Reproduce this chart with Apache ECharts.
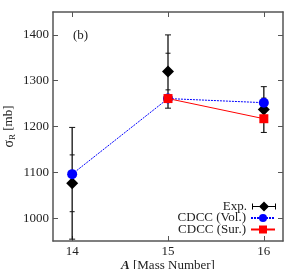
<!DOCTYPE html>
<html><head><meta charset="utf-8">
<script src="https://cdn.jsdelivr.net/npm/echarts@6/dist/echarts.min.js"></script>
<style>html,body{margin:0;padding:0;background:#fff}#c{width:291px;height:269px}</style>
</head><body><div id="c"></div>
<script>
const massNumbers = [14, 15, 16];
const xTicks = [14, 15, 16];
const yTicks = [1000, 1100, 1200, 1300, 1400];
const expValues = [1076, 1320, 1237];
const expInnerErr = [62, 40, 25];
const expOuterErr = [122, 80, 50];
const volValues = [1096, 1261, 1252];
const surMass = [15, 16];
const surValues = [1261, 1217];

const font = 'Liberation Serif';
const axisColor = '#555';

const expData = massNumbers.map((m, i) => [m, expValues[i]]);
const errData = massNumbers.map((m, i) => [m, expValues[i], expInnerErr[i], expOuterErr[i]]);
const volData = massNumbers.map((m, i) => [m, volValues[i]]);
const surData = surMass.map((m, i) => [m, surValues[i]]);

const chart = echarts.init(document.getElementById('c'), null, {renderer: 'canvas'});
const baseAxis = {
  axisLine: {show: true, lineStyle: {color: axisColor, width: 1.5}},
  axisTick: {inside: true, length: 5, lineStyle: {color: axisColor, width: 1}},
  splitLine: {show: false},
};
const fmt = v => String(v);
const legendBase = {
  orient: 'vertical', right: 15, align: 'right',
  itemWidth: 24, itemHeight: 10, itemGap: 0, padding: 0,
  textStyle: {fontFamily: font, fontSize: 13, color: '#222'}
};
chart.setOption({
  animation: false,
  textStyle: {fontFamily: font},
  grid: {left: 53, right: 8, top: 12, bottom: 28, outerBoundsMode: 'none', containLabel: false},
  xAxis: [
    Object.assign({}, baseAxis, {
      type: 'value', min: 13.8, max: 16.2, position: 'bottom',
      axisTick: Object.assign({}, baseAxis.axisTick, {customValues: xTicks}),
      axisLabel: {customValues: xTicks, formatter: fmt, color: '#222', fontSize: 13, fontFamily: font, margin: 4},
      name: '{b|A} [Mass Number]', nameLocation: 'middle', nameGap: 18, nameMoveOverlap: false,
      nameTextStyle: {color: '#222', fontSize: 13, fontFamily: font,
        rich: {b: {fontWeight: 'bold', fontStyle: 'italic', fontSize: 13, fontFamily: font, color: '#222'}}}
    }),
    Object.assign({}, baseAxis, {
      type: 'value', min: 13.8, max: 16.2, position: 'top',
      axisTick: Object.assign({}, baseAxis.axisTick, {customValues: xTicks}),
      axisLabel: {show: false}
    })
  ],
  yAxis: [
    Object.assign({}, baseAxis, {
      type: 'value', min: 950, max: 1450, position: 'left',
      axisTick: Object.assign({}, baseAxis.axisTick, {customValues: yTicks}),
      axisLabel: {customValues: yTicks, formatter: fmt, color: '#222', fontSize: 13, fontFamily: font, margin: 4},
      name: '{s|σ}{sub|R} [mb]', nameLocation: 'middle', nameGap: 36, nameRotate: 90, nameMoveOverlap: false,
      nameTextStyle: {color: '#222', fontSize: 13, fontFamily: font,
        rich: {s: {fontSize: 14, fontFamily: font, color: '#222', verticalAlign: 'middle', lineHeight: 16},
               sub: {fontSize: 9, fontFamily: font, color: '#222', verticalAlign: 'bottom', lineHeight: 16}}}
    }),
    Object.assign({}, baseAxis, {
      type: 'value', min: 950, max: 1450, position: 'right',
      axisTick: Object.assign({}, baseAxis.axisTick, {customValues: yTicks}),
      axisLabel: {show: false}
    })
  ],
  legend: [
    Object.assign({}, legendBase, {top: 200, data: [
      {name: 'Exp.', icon: 'path://M0,2H1V8H0Z M23,2H24V8H23Z M0,4.5H24V5.5H0Z M12,0L17,5L12,10L7,5Z'}]}),
    Object.assign({}, legendBase, {top: 211.5, data: ['CDCC (Vol.)']}),
    Object.assign({}, legendBase, {top: 223, data: ['CDCC (Sur.)']})
  ],
  graphic: [{type: 'text', left: 73, top: 29, style: {text: '(b)', font: '13px "Liberation Serif"', fill: '#222'}}],
  series: [
    {
      type: 'custom', name: 'errbar', z: 1, silent: true,
      data: errData,
      renderItem: function (params, api) {
        const x = api.value(0), v = api.value(1), e1 = api.value(2), e2 = api.value(3);
        const cs = params.coordSys;
        const yMin = cs.y, yMax = cs.y + cs.height;
        const clamp = y => Math.max(yMin, Math.min(yMax, y));
        const top = api.coord([x, v + e2]), bot = api.coord([x, v - e2]);
        const it = api.coord([x, v + e1]), ib = api.coord([x, v - e1]);
        const px = top[0];
        const st = {stroke: '#111', lineWidth: 1.3};
        const ch = [{type: 'line', shape: {x1: px, y1: clamp(top[1]), x2: px, y2: clamp(bot[1])}, style: st}];
        const caps = [[top[1], 3], [bot[1], 3], [it[1], 2.5], [ib[1], 2.5]];
        caps.forEach(c => {
          if (c[0] >= yMin && c[0] <= yMax)
            ch.push({type: 'line', shape: {x1: px - c[1], y1: c[0], x2: px + c[1], y2: c[0]}, style: {stroke: '#111', lineWidth: 1}});
        });
        return {type: 'group', children: ch};
      }
    },
    {name: 'Exp.', type: 'scatter', z: 2, data: expData, symbol: 'diamond', symbolSize: [12, 12],
     itemStyle: {color: '#000', opacity: 1}},
    {name: 'CDCC (Vol.)', type: 'line', z: 3, data: volData, symbol: 'circle', symbolSize: 10,
     itemStyle: {color: '#0000ff'}, lineStyle: {color: '#0000ff', width: 1, type: [2, 1]}},
    {name: 'CDCC (Sur.)', type: 'line', z: 4, data: surData, symbol: 'rect', symbolSize: 9,
     itemStyle: {color: '#ff0000'}, lineStyle: {color: '#ff0000', width: 1}}
  ]
});
</script></body></html>
